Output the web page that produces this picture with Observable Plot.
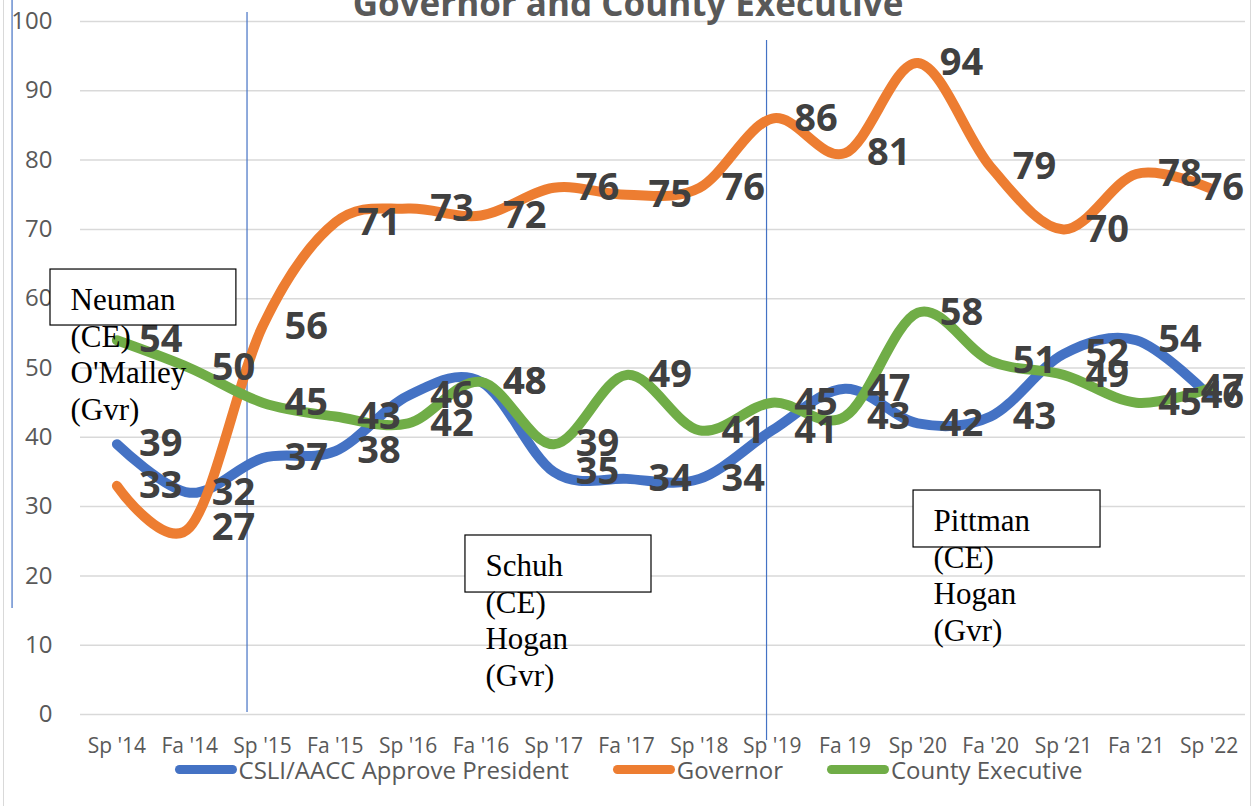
<!DOCTYPE html>
<html>
<head>
<meta charset="utf-8">
<script src="https://cdn.jsdelivr.net/npm/d3@7"></script>
<script src="https://cdn.jsdelivr.net/npm/@observablehq/plot@0.6"></script>
<style>
  body { margin: 0; background: #fff; }
  #wrap { position: relative; width: 1257px; height: 806px; overflow: hidden; font-family: "Open Sans", sans-serif; }
  #wrap svg { position: absolute; left: 0; top: 0; overflow: visible; }
  #border { position: absolute; left: 3px; top: 0; width: 1248px; height: 806px; border-left: 1.5px solid #d9d9d9; border-right: 1.5px solid #d9d9d9; box-sizing: border-box; }
  #legend { position: absolute; left: 6px; top: 754px; width: 1245px; height: 30px; display: flex; justify-content: center; align-items: center; font-size: 24px; color: #595959; gap: 44px; }
  .item { display: flex; align-items: center; }
  .sw { display: inline-block; width: 62px; height: 9px; border-radius: 5px; margin-right: 2px; }
</style>
</head>
<body>
<div id="wrap"><div id="border"></div></div>
<script>
// ---- data ----
const title = "Governor and County Executive";
const categories = ["Sp '14", "Fa '14", "Sp '15", "Fa '15", "Sp '16", "Fa '16", "Sp '17", "Fa '17",
  "Sp '18", "Sp '19", "Fa 19", "Sp '20", "Fa '20", "Sp \u201821", "Fa '21", "Sp '22"];
const seriesNames = ["CSLI/AACC Approve President", "Governor", "County Executive"];
const seriesColors = ["#4472C4", "#ED7D31", "#70AD47"];
const president = [39, 32, 37, 38, 46, 48, 35, 34, 34, 41, 47, 42, 43, 52, 54, 46];
const governor = [33, 27, 56, 71, 73, 72, 76, 75, 76, 86, 81, 94, 79, 70, 78, 76];
const countyExec = [54, 50, 45, 43, 42, 48, 39, 49, 41, 45, 43, 58, 51, 49, 45, 47];
const yTicks = [0, 10, 20, 30, 40, 50, 60, 70, 80, 90, 100];

// term dividers (x in category units, y in percent)
const dividers = [
  {x: -1.44, y1: 15.3, y2: 104},
  {x: 1.787, y1: 0.3, y2: 101.3},
  {x: 8.922, y1: -3.75, y2: 97.26}
];
// text-box annotations (box corners in category / percent units)
const notes = [
  {x1: -0.912, x2: 1.641, y1: 56.13, y2: 64.21, text: "Neuman\n(CE)\nO'Malley\n(Gvr)"},
  {x1: 4.787, x2: 7.342, y1: 17.60, y2: 25.83, text: "Schuh\n(CE)\nHogan\n(Gvr)"},
  {x1: 10.941, x2: 13.509, y1: 24.10, y2: 32.32, text: "Pittman\n(CE)\nHogan\n(Gvr)"}
];

// ---- build table ----
const valuesBySeries = [president, governor, countyExec];
const rows = [];
seriesNames.forEach((s, k) => valuesBySeries[k].forEach((v, i) => rows.push({s, i, v})));
const last = categories.length - 1;
const labelStyle = {fontSize: 38, fontWeight: 700, fill: "#404040"};

const chart = Plot.plot({
  width: 1257,
  height: 806,
  marginLeft: 80,
  marginRight: 12,
  marginTop: 21,
  marginBottom: 92,
  style: {fontFamily: "'Open Sans', sans-serif", background: "transparent", overflow: "visible"},
  x: {domain: [-0.5, 15.5], axis: null},
  y: {domain: [0, 100], axis: null},
  color: {domain: seriesNames, range: seriesColors},
  marks: [
    Plot.gridY(yTicks, {stroke: "#d9d9d9", strokeOpacity: 1, strokeWidth: 1.5}),
    Plot.axisY(yTicks, {tickSize: 0, tickPadding: 28, fontSize: 24, color: "#595959", fill: "#595959"}),
    Plot.axisX(categories.map((c, i) => i), {tickFormat: i => categories[i], tickSize: 0, tickPadding: 24, fontSize: 21, color: "#595959", fill: "#595959"}),
    Plot.ruleX(dividers, {x: "x", y1: "y1", y2: "y2", stroke: "#4472C4", strokeWidth: 1.2, clip: false}),
    Plot.line(rows, {x: "i", y: "v", z: "s", stroke: "s", curve: "cardinal", strokeWidth: 10,
      strokeLinecap: "round", strokeLinejoin: "round"}),
    Plot.text(rows.filter(d => d.i < last), {x: "i", y: "v", text: d => String(d.v), textAnchor: "start", dx: 22, ...labelStyle}),
    Plot.text(rows.filter(d => d.i === last), {x: "i", y: "v", text: d => String(d.v), textAnchor: "end", dx: 35, ...labelStyle}),
    Plot.rect(notes, {x1: "x1", x2: "x2", y1: "y1", y2: "y2", fill: "white", stroke: "black", strokeWidth: 1.2, clip: false}),
    Plot.text(notes, {x: "x1", y: "y2", text: "text", textAnchor: "start", lineAnchor: "top", dx: 20, dy: 15,
      lineHeight: 1.174, fontSize: 31, fontFamily: "'Liberation Serif', 'Times New Roman', serif", fill: "black", clip: false}),
    Plot.text([title], {frameAnchor: "top", dx: -35, dy: -6, lineAnchor: "bottom", fontSize: 35, fontWeight: 700, fill: "#595959"})
  ]
});

const wrap = document.getElementById("wrap");
wrap.appendChild(chart);

// legend
const legend = document.createElement("div");
legend.id = "legend";
seriesNames.forEach((s, k) => {
  const it = document.createElement("div");
  it.className = "item";
  const sw = document.createElement("span");
  sw.className = "sw";
  sw.style.background = seriesColors[k];
  const t = document.createElement("span");
  t.textContent = s;
  it.appendChild(sw); it.appendChild(t);
  legend.appendChild(it);
});
wrap.appendChild(legend);
</script>
</body>
</html>
